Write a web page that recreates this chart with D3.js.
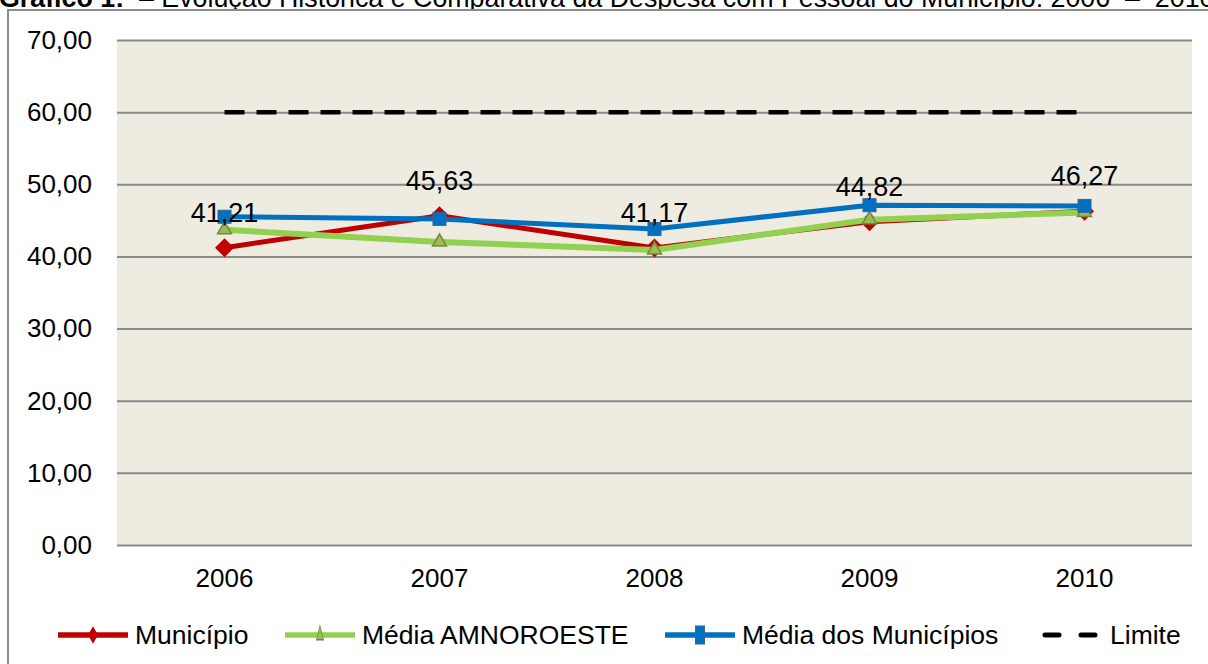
<!DOCTYPE html>
<html><head><meta charset="utf-8">
<script src="https://cdn.jsdelivr.net/npm/d3@7"></script>
<style>body{margin:0;background:#fff;overflow:hidden}svg{display:block}text{font-family:"Liberation Sans",Arial,sans-serif}</style>
</head><body>
<svg id="c" width="1208" height="664"></svg>
<script>
const years = ["2006","2007","2008","2009","2010"];
const municipio = [41.21, 45.63, 41.17, 44.82, 46.27];
const mediaAmnoroeste = [43.7, 42.0, 40.9, 45.1, 46.1];
const mediaMunicipios = [45.5, 45.2, 43.8, 47.1, 47.0];
const limite = [60, 60, 60, 60, 60];
const yTicks = [0,10,20,30,40,50,60,70];

const svg = d3.select("#c");
const L = 117, R = 1192, T = 40, B = 545;
const fmt = v => d3.format(".2f")(v).replace(".", ",");
const FS = 26;

// title (partially cut off at top, as in the reference)
const title = svg.append("text").attr("x", -1).attr("y", 7).attr("font-size", 26.8).attr("fill", "#000");
title.append("tspan").attr("font-weight", "bold").text("Gráfico 1:");
title.append("tspan").text(" \u00a0– Evolução Histórica e Comparativa da Despesa com Pessoal do Município: 2006 \u00a0– \u00a02010");

// outer border
svg.append("rect").attr("x", 8).attr("y", 10).attr("width", 1210).attr("height", 670)
  .attr("fill", "#fff").attr("stroke", "#8c8c8c").attr("stroke-width", 2);

const x = d3.scaleBand().domain(years).range([L, R]);
const cx = d => x(d) + x.bandwidth() / 2;
const y = d3.scaleLinear().domain([0, 70]).range([B, T]);

svg.append("rect").attr("x", L).attr("y", T).attr("width", R - L).attr("height", B - T).attr("fill", "#EEEBE1");

// grid
const yAxis = d3.axisLeft(y).tickValues(yTicks).tickSize(-(R - L)).tickFormat(fmt);
const gy = svg.append("g").attr("transform", `translate(${L},0)`).call(yAxis);
gy.select(".domain").remove();
gy.selectAll("line").attr("stroke", "#8a8a8a").attr("stroke-width", 2);
gy.selectAll("text").attr("x", -25).attr("font-size", FS).attr("fill", "#000").attr("font-family", "Liberation Sans, Arial, sans-serif");

const xAxis = d3.axisBottom(x).tickSize(0);
const gx = svg.append("g").attr("transform", `translate(0,${B})`).call(xAxis);
gx.select(".domain").remove();
gx.selectAll("text").attr("y", 24).attr("dy", "0.71em").attr("font-size", FS).attr("fill", "#000").attr("font-family", "Liberation Sans, Arial, sans-serif");

const line = d3.line().x((d, i) => cx(years[i])).y(d => y(d));

// Limite
svg.append("path").datum(limite).attr("d", line).attr("fill", "none")
  .attr("stroke", "#000").attr("stroke-width", 4.5).attr("stroke-dasharray", "20,12");

function series(data, color, width) {
  svg.append("path").datum(data).attr("d", line).attr("fill", "none")
    .attr("stroke", color).attr("stroke-width", width).attr("stroke-linejoin", "round");
}
series(municipio, "#C00000", 5);
svg.selectAll(".dm").data(municipio).join("path")
  .attr("d", d3.symbol(d3.symbolDiamond2, 230)).attr("fill", "#C00000")
  .attr("transform", (d, i) => `translate(${cx(years[i])},${y(d)})`);

series(mediaAmnoroeste, "#92D050", 6);
svg.selectAll(".tr").data(mediaAmnoroeste).join("path")
  .attr("d", d3.symbol(d3.symbolTriangle, 85)).attr("fill", "#9BBB59").attr("stroke", "#71893F").attr("stroke-width", 1.5)
  .attr("transform", (d, i) => `translate(${cx(years[i])},${y(d)})`);

series(mediaMunicipios, "#0070C0", 5);
svg.selectAll(".sq").data(mediaMunicipios).join("rect")
  .attr("x", (d, i) => cx(years[i]) - 6.5).attr("y", d => y(d) - 6.5).attr("width", 13).attr("height", 13)
  .attr("fill", "#0070C0").attr("stroke", "#3A6493").attr("stroke-width", 1);

// data labels
svg.selectAll(".lbl").data(municipio).join("text")
  .attr("x", (d, i) => cx(years[i])).attr("y", d => y(d) - 26)
  .attr("text-anchor", "middle").attr("font-size", 27).attr("fill", "#000").text(fmt);

// legend
const leg = [
  {name: "Município", color: "#C00000", x: 58, mark: "diamond"},
  {name: "Média AMNOROESTE", color: "#92D050", x: 285, mark: "tri"},
  {name: "Média dos Municípios", color: "#0070C0", x: 665, mark: "sq"},
  {name: "Limite", color: "#000", x: 1040, mark: "dash"}
];
const ly = 635;
leg.forEach(l => {
  const g = svg.append("g");
  if (l.mark === "dash") {
    g.append("line").attr("x1", l.x + 5).attr("x2", l.x + 62).attr("y1", ly).attr("y2", ly)
      .attr("stroke", "#000").attr("stroke-width", 5).attr("stroke-dasharray", "14,22").attr("stroke-linecap", "round");
  } else {
    g.append("line").attr("x1", l.x).attr("x2", l.x + 70).attr("y1", ly).attr("y2", ly)
      .attr("stroke", l.color).attr("stroke-width", 5.5);
    const mx = l.x + 35;
    if (l.mark === "diamond") g.append("path").attr("d", d3.symbol(d3.symbolDiamond2, 150)).attr("fill", l.color).attr("transform", `translate(${mx},${ly}) scale(0.65,1.15)`);
    if (l.mark === "tri") g.append("path").attr("d", d3.symbol(d3.symbolTriangle, 60)).attr("fill", "#9BBB59").attr("stroke", "#71893F").attr("transform", `translate(${mx},${ly}) scale(0.6,1.4)`);
    if (l.mark === "sq") g.append("rect").attr("x", mx - 4.5).attr("y", ly - 9).attr("width", 9).attr("height", 18).attr("fill", "#0070C0").attr("stroke", "#3A6493");
  }
  g.append("text").attr("x", l.x + (l.mark === "dash" ? 70 : 77)).attr("y", ly).attr("dy", "0.35em")
    .attr("font-size", 26.5).attr("fill", "#000").text(l.name);
});
</script>
</body></html>
